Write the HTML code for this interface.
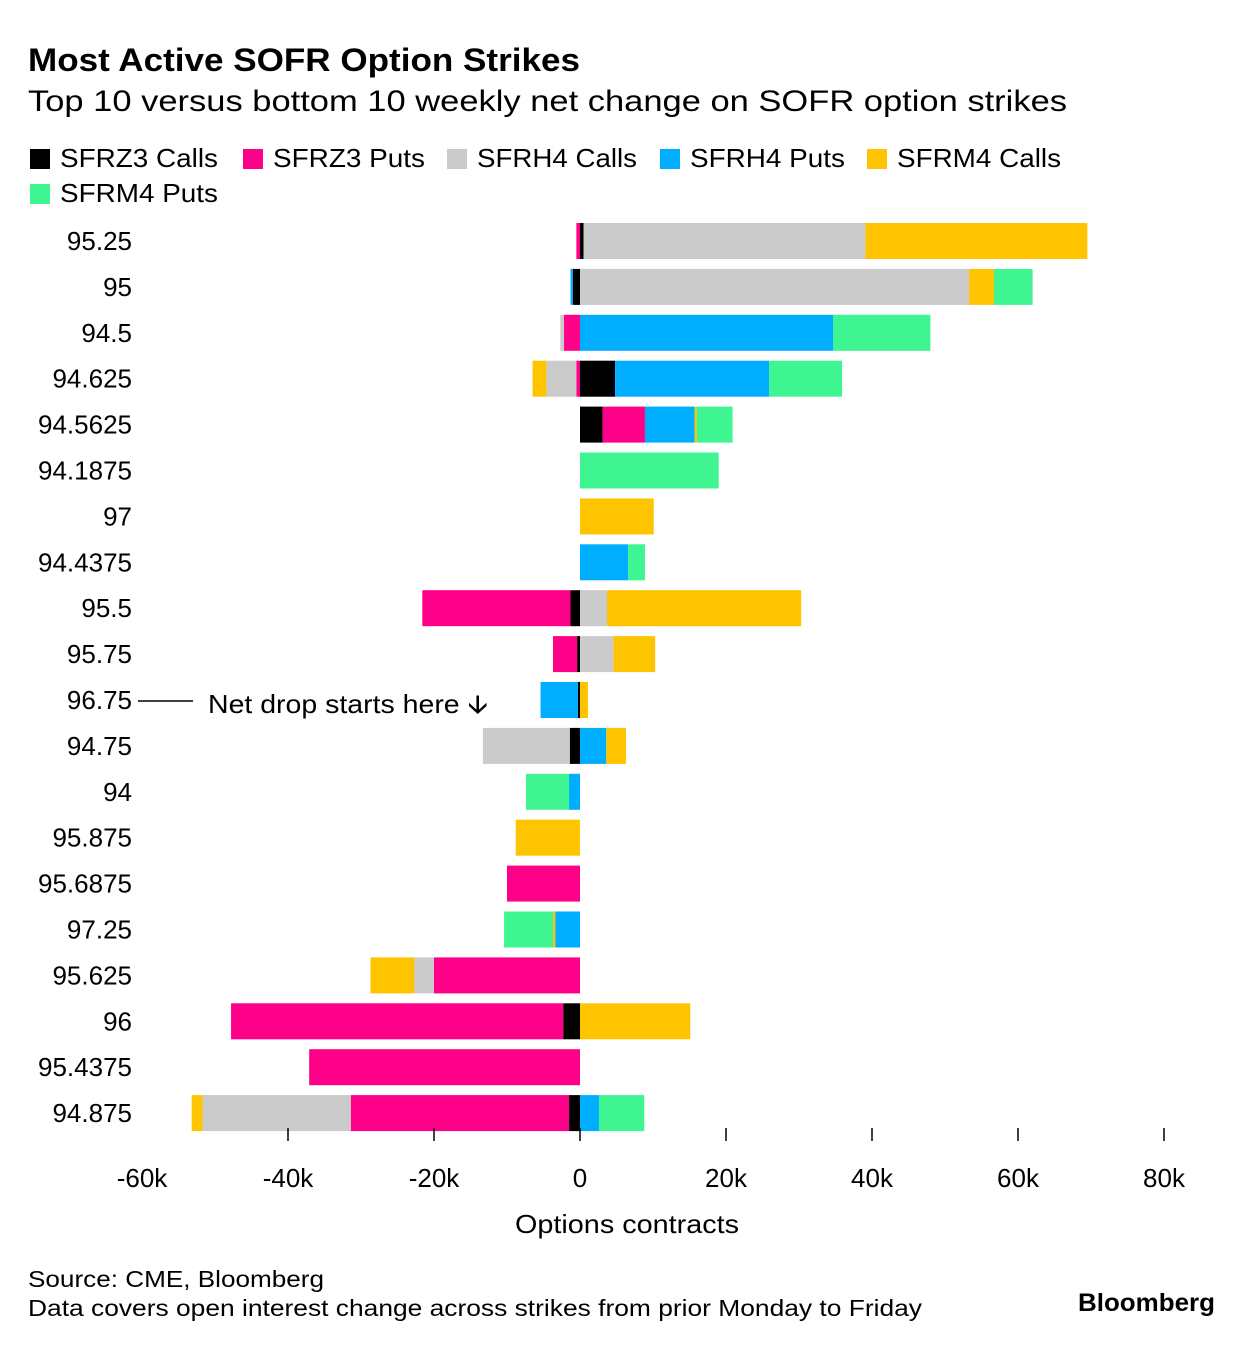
<!DOCTYPE html>
<html><head><meta charset="utf-8"><style>
body{margin:0;background:#fff;width:1253px;height:1346px;overflow:hidden;font-family:"Liberation Sans",sans-serif;}
svg text{font-family:"Liberation Sans",sans-serif;}
</style></head><body>
<svg id="chart" width="1253" height="1346" xmlns="http://www.w3.org/2000/svg">
<text x="28" y="71" font-size="32" font-weight="bold" fill="#000" textLength="552" lengthAdjust="spacingAndGlyphs">Most Active SOFR Option Strikes</text>
<text x="28" y="111" font-size="30" fill="#000" textLength="1039" lengthAdjust="spacingAndGlyphs">Top 10 versus bottom 10 weekly net change on SOFR option strikes</text>
<g id="legend"></g>
<g id="bars"></g>
<g id="axis"></g>
<line x1="138" y1="701" x2="193" y2="701" stroke="#000" stroke-width="1.5"/>
<text x="208" y="713" font-size="26" fill="#000" textLength="280" lengthAdjust="spacingAndGlyphs">Net drop starts here 🡫</text>
<text x="627" y="1233" font-size="26" text-anchor="middle" fill="#000" textLength="224" lengthAdjust="spacingAndGlyphs">Options contracts</text>
<text x="28" y="1287" font-size="23" fill="#000" textLength="296" lengthAdjust="spacingAndGlyphs">Source: CME, Bloomberg</text>
<text x="28" y="1316" font-size="23" fill="#000" textLength="894" lengthAdjust="spacingAndGlyphs">Data covers open interest change across strikes from prior Monday to Friday</text>
<text x="1078" y="1311" font-size="25" font-weight="bold" fill="#000" textLength="137" lengthAdjust="spacingAndGlyphs">Bloomberg</text>
</svg>
<script>
const categories=["95.25","95","94.5","94.625","94.5625","94.1875","97","94.4375","95.5","95.75","96.75","94.75","94","95.875","95.6875","97.25","95.625","96","95.4375","94.875"];
const seriesNames=["SFRZ3 Calls","SFRZ3 Puts","SFRH4 Calls","SFRH4 Puts","SFRM4 Calls","SFRM4 Puts"];
const seriesColors=["#000000","#ff0088","#cbcbcb","#00aeff","#ffc400","#3ff592"];
const z3Calls=[0.5,-1.0,0,4.8,3.1,0,0,0,-1.3,-0.4,-0.3,-1.4,0,0,0,0,0,-2.3,0,-1.5];
const z3Puts=[-0.5,0,-2.2,-0.5,5.8,0,0,0,-20.3,-3.3,0,0,0,0,-10.0,0,-20.0,-45.5,-37.1,-29.9];
const h4Calls=[38.6,53.3,-0.5,-4.1,0,0,0,0,3.7,4.6,0,-11.9,0,0,0,0,-2.7,0,0,-20.3];
const h4Puts=[0,-0.3,34.7,21.1,6.8,0,0,6.6,0,0,-5.1,3.6,-1.5,0,0,-3.4,0,0,0,2.6];
const m4Calls=[30.4,3.4,0,-1.9,0.3,0,10.1,0,26.6,5.7,1.1,2.7,0,-8.8,0,-0.3,-6.0,15.1,0,-1.5];
const m4Puts=[0,5.3,13.3,10.0,4.9,19.0,0,2.3,0,0,0,0,-5.9,0,0,-6.7,0,0,0,6.2];
const tickValues=[-60,-40,-20,0,20,40,60,80];
const tickLabels=["-60k","-40k","-20k","0","20k","40k","60k","80k"];
const series=[z3Calls,z3Puts,h4Calls,h4Puts,m4Calls,m4Puts];
const NS="http://www.w3.org/2000/svg";
const x=v=>580+v*7.3;
const y=i=>241+i*45.9;
function mk(t,a,p){const e=document.createElementNS(NS,t);for(const k in a)e.setAttribute(k,a[k]);p.appendChild(e);return e;}
const bars=document.getElementById('bars'),axis=document.getElementById('axis'),leg=document.getElementById('legend');
const lpos=[[30,158],[243,158],[447,158],[660,158],[867,158],[30,193]];
const lwid=[158,152,160,155,164,158];
seriesNames.forEach((n,i)=>{
 const r=mk('rect',{x:lpos[i][0],y:lpos[i][1]-9,width:20,height:20,fill:seriesColors[i]},leg);
 
 
 const t=mk('text',{x:lpos[i][0]+30,y:lpos[i][1]+9,'font-size':26,fill:'#000',textLength:lwid[i],lengthAdjust:'spacingAndGlyphs'},leg);
 t.textContent=n;
 
 
});
categories.forEach((c,i)=>{
 const t=mk('text',{x:132,y:y(i)+9,'font-size':26,'text-anchor':'end',fill:'#000'},bars);
 t.textContent=c;
 
 
 let pos=0,neg=0;
 series.forEach((s,k)=>{
  const v=s[i];if(!v)return;
  let a,b;
  if(v>0){a=pos;b=pos+v;pos=b;}else{a=neg+v;b=neg;neg=a;}
  const r=mk('rect',{x:x(a),y:y(i)-18,width:x(b)-x(a),height:36,fill:seriesColors[k]},bars);
  
  
 });
});
tickValues.forEach((v,i)=>{
 if(v>-60){const l=mk('line',{x1:x(v),y1:1128,x2:x(v),y2:1141,stroke:'#000','stroke-width':1.5},axis);
 
 }
 const t=mk('text',{x:x(v),y:1187,'font-size':26,'text-anchor':'middle',fill:'#000'},axis);
 t.textContent=tickLabels[i];
 
 
});
</script>
</body></html>
